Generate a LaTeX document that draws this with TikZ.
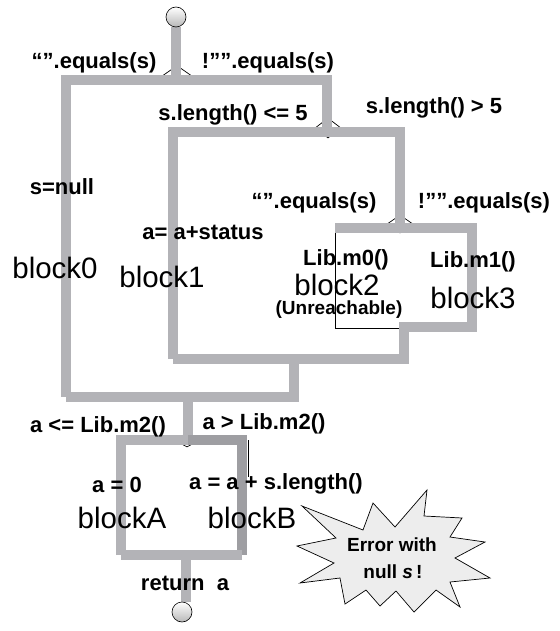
\documentclass[tikz,border=0pt]{standalone}
\usepackage{fontspec}
\setmainfont{Liberation Sans}
\usetikzlibrary{shapes.geometric}
\definecolor{flow}{HTML}{B3B3B7}
\definecolor{flowdark}{HTML}{9E9EA2}
\definecolor{burst}{HTML}{EDEDED}
\tikzset{
  bar/.style={draw=flow, line width=9.5pt, line cap=butt, line join=miter},
  darkbar/.style={bar, draw=flowdark},
  edge/.style={draw=black, line width=0.7pt},
  fork/.style={diamond, draw=black, line width=0.7pt, fill=white, inner sep=0pt,
               minimum width=27pt, minimum height=19pt},
  terminal/.style={circle, draw=black, line width=0.6pt, minimum size=20pt, inner sep=0pt,
                   top color=white, bottom color=black!28},
  cond/.style={font=\fontsize{22}{24}\selectfont\bfseries, inner sep=0pt},
  blockname/.style={font=\fontsize{29.5}{31}\selectfont, inner sep=0pt},
  note/.style={font=\fontsize{19}{21}\selectfont\bfseries, inner sep=0pt},
}
\begin{document}
\begin{tikzpicture}[x=1pt,y=-1pt]
\useasboundingbox (0,0) rectangle (559,631);

% junction coordinates of the flow paths
\coordinate (s0) at (176,27);
\coordinate (j1) at (176,80);
\coordinate (l1) at (66,80);
\coordinate (r1) at (327,80);
\coordinate (j2) at (327,132);
\coordinate (l2) at (173,132);
\coordinate (r2) at (400,132);
\coordinate (j3) at (400,228);
\coordinate (l3) at (335,228);
\coordinate (r3) at (472,228);
\coordinate (r3b) at (472,327);
\coordinate (m3) at (404,327);
\coordinate (m3b) at (404,359);
\coordinate (l2b) at (173,359);
\coordinate (m1) at (294,359);
\coordinate (m1b) at (294,397);
\coordinate (l1b) at (66,397);
\coordinate (j4t) at (188,397);
\coordinate (j4) at (188,440);
\coordinate (la) at (121,440);
\coordinate (rb) at (242,440);
\coordinate (lab) at (121,555);
\coordinate (rbb) at (242,555);
\coordinate (ex) at (186,555);
\coordinate (b2a) at (335,328);
\coordinate (b2b) at (400,328);
\coordinate (bBa) at (248,440);
\coordinate (bBb) at (248,477);

% branch diamonds sit underneath the flow bars
\node[fork] (d1) at (177,75) {};
\node[fork, minimum width=26pt, minimum height=20pt] (d2) at (328,128) {};
\node[fork, minimum width=26pt, minimum height=18pt] (d3) at (400,224) {};
\node[fork, minimum width=26pt, minimum height=14pt] (d4) at (187,440) {};

% thin outlines of block2 and blockB
\draw[edge] (l3) -- (b2a) -- (b2b);
\draw[edge] (bBa) -- (bBb);

% flow bars
\draw[bar] (s0) -- (j1);
\draw[bar] (l1b) -- (l1) -- (r1) -- (j2);
\draw[bar] (l2b) -- (l2) -- (r2) -- (j3);
\draw[bar] (l3) -- (r3) -- (r3b) -- (m3) -- (m3b) -- (l2b);
\draw[bar] (m1) -- (m1b) -- (l1b);
\draw[bar] (j4t) -- (j4);
\draw[bar] (lab) -- (la) -- (j4);
\draw[darkbar] (j4) -- (rb) -- (rbb);
\draw[bar] (rbb) -- (lab);
\draw[bar] (ex) -- (186,602);

% start and end terminals
\node[terminal] (start) at (176,17) {};
\node[terminal] (end) at (182,612) {};

% branch conditions
\node[cond] (c1) at (94,63) {“”.equals(s)};
\node[cond] (c2) at (268,63) {!””.equals(s)};
\node[cond] (c3) at (233,115) {s.length() <= 5};
\node[cond] (c4) at (434,108) {s.length() > 5};
\node[cond] (c5) at (314,203) {“”.equals(s)};
\node[cond] (c6) at (484,203) {!””.equals(s)};
\node[cond] (c7) at (98,427) {a <= Lib.m2()};
\node[cond] (c8) at (264,424) {a > Lib.m2()};

% statements inside the blocks
\node[cond] (t0) at (62,187) {s=null};
\node[cond] (t1) at (203,232) {a= a+status};
\node[cond] (t2) at (346,260) {Lib.m0()};
\node[cond] (t3) at (473,262) {Lib.m1()};
\node[cond] (tA) at (117,485) {a = 0};
\node[cond] (tB) at (276,484) {a = a + s.length()};
\node[cond] (tr) at (185,583) {return\ \ a};

% block names
\node[blockname] (b0) at (55,268) {block0};
\node[blockname] (b1) at (162,277) {block1};
\node[blockname] (b2) at (337,285) {block2};
\node[note] (u2) at (339,310) {(Unreachable)};
\node[blockname] (b3) at (473,298) {block3};
\node[blockname] (bA) at (122,518) {blockA};
\node[blockname] (bB) at (252,518) {blockB};

% error callout
\draw[fill=burst, draw=black, line width=0.7pt, line join=miter]
  (302,506) -- (363,530) -- (373,503) -- (395,527) -- (427,490) -- (424,516)
  -- (462,518) -- (450,537) -- (485,542) -- (455,558) -- (490,578) -- (450,582)
  -- (460,607) -- (436,590) -- (414,612) -- (396,591) -- (380,606) -- (366,590)
  -- (345,604) -- (340,578) -- (300,583) -- (334,563) -- (297,546) -- (336,538)
  -- cycle;
\node[note] (e1) at (392,545) {Error with};
\node[note] (e2) at (393,572) {null \textit{s}\,!};
\end{tikzpicture}
\end{document}
